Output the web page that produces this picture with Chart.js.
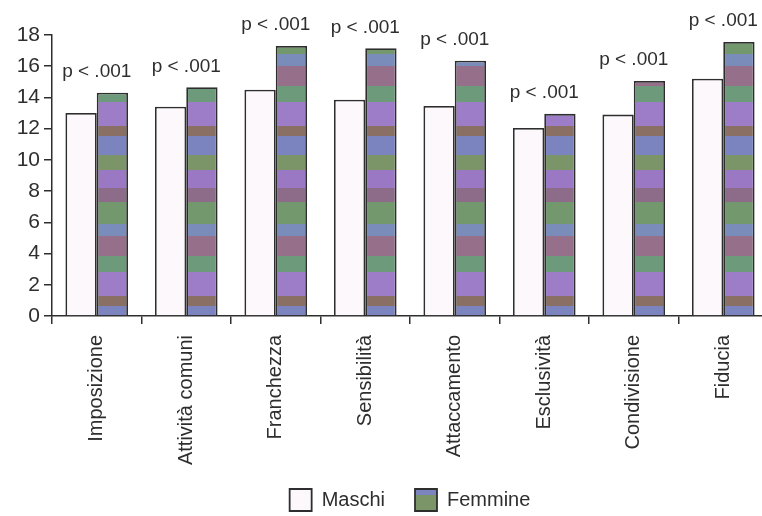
<!DOCTYPE html>
<html>
<head>
<meta charset="UTF-8">
<script src="https://cdn.jsdelivr.net/npm/chart.js@4.4.0/dist/chart.umd.min.js"></script>
<title>Maschi / Femmine</title>
<style>
body{margin:0;background:#fff;overflow:hidden}
#wrap{width:770px;height:516px}
</style>
</head>
<body>
<div id="wrap"><canvas id="myChart" width="770" height="516"></canvas></div>
<script>
// categorie e valori
var categorie = ["Imposizione", "Attività comuni", "Franchezza", "Sensibilità", "Attaccamento", "Esclusività", "Condivisione", "Fiducia"];
var maschi  = [13.0, 13.4, 14.5, 13.85, 13.45, 12.05, 12.9, 15.2];
var femmine = [14.3, 14.65, 17.3, 17.15, 16.35, 12.95, 15.05, 17.55];
var pLabels = ["p < .001", "p < .001", "p < .001", "p < .001", "p < .001", "p < .001", "p < .001", "p < .001"];
var yTicks  = [0, 2, 4, 6, 8, 10, 12, 14, 16, 18];

var FONT = '"Liberation Sans", Arial, sans-serif';
var INK = '#2e2e2e';

// retino "scansionato" per le barre delle femmine
function makePattern(g0){
	var c = document.createElement('canvas');
	c.width = 4; c.height = 170;
	var g = c.getContext('2d');
	var bands = ['#9a78c4','#8c6c88','#73986e','#7a8cba','#96708a','#6e9a7c','#9d7dc8','#8a7064','#7c84c0','#7b9568'];
	var h = [18, 14, 22, 12, 20, 16, 24, 10, 19, 15];
	var y = 0;
	for (var i = 0; i < bands.length; i++){
		g.fillStyle = bands[i];
		g.fillRect(0, y, 4, h[i]);
		y += h[i];
	}
	return g0.createPattern(c, 'repeat');
}
var ctx = document.getElementById("myChart").getContext('2d');
var femPattern = makePattern(ctx);

// etichette "p < .001" sopra ogni coppia di barre
var pPlugin = {
	id: 'pvalues',
	afterLayout: function(chart){
		// le etichette ruotate sono ritagliate sul box della scala: lo allungo
		chart.scales.x.bottom += 20;
	},
	afterDatasetsDraw: function(chart){
		var c = chart.ctx, xs = chart.scales.x, ys = chart.scales.y;
		c.save();
		c.font = '19px ' + FONT;
		c.fillStyle = INK;
		c.textAlign = 'center';
		c.textBaseline = 'middle';
		for (var i = 0; i < pLabels.length; i++){
			var top = Math.max(maschi[i], femmine[i]);
			c.fillText(pLabels[i], xs.getPixelForValue(i), ys.getPixelForValue(top) - 21);
		}
		c.restore();
	}
};

var myChart = new Chart(ctx, {
	type: 'bar',
	data: {
		labels: categorie,
		datasets: [{
			label: 'Maschi',
			data: maschi,
			backgroundColor: '#fcf8fc',
			borderColor: INK,
			borderWidth: 1.8
		}, {
			label: 'Femmine',
			data: femmine,
			backgroundColor: femPattern,
			borderColor: INK,
			borderWidth: 1.8
		}]
	},
	options: {
		responsive: false,
		animation: false,
		layout: { padding: { top: 35, right: 2, bottom: -5, left: 0 } },
		datasets: { bar: { categoryPercentage: 0.70, barPercentage: 1.0 } },
		plugins: {
			tooltip: { enabled: false },
			legend: {
				position: 'bottom',
				fullSize: false,
				labels: {
					font: { family: FONT, size: 20 },
					color: INK,
					boxWidth: 22,
					boxHeight: 22,
					padding: 30
				}
			}
		},
		scales: {
			x: {
				afterFit: function(s){ s.height = 143; },
				grid: { drawOnChartArea: false, tickLength: 8, color: INK, lineWidth: 1.5 },
				border: { color: INK, width: 1.5 },
				ticks: {
					font: { family: FONT, size: 20 },
					color: INK,
					minRotation: 90,
					maxRotation: 90,
					padding: 11,
					autoSkip: false
				}
			},
			y: {
				min: 0,
				max: 18,
				afterFit: function(s){ s.width = 52; },
				afterBuildTicks: function(s){ s.ticks = yTicks.map(function(v){ return { value: v }; }); },
				grid: { drawOnChartArea: false, tickLength: 8, color: INK, lineWidth: 1.5 },
				border: { color: INK, width: 1.5 },
				ticks: {
					font: { family: FONT, size: 21 },
					color: INK,
					padding: 4
				}
			}
		}
	},
	plugins: [pPlugin]
});
</script>
</body>
</html>
